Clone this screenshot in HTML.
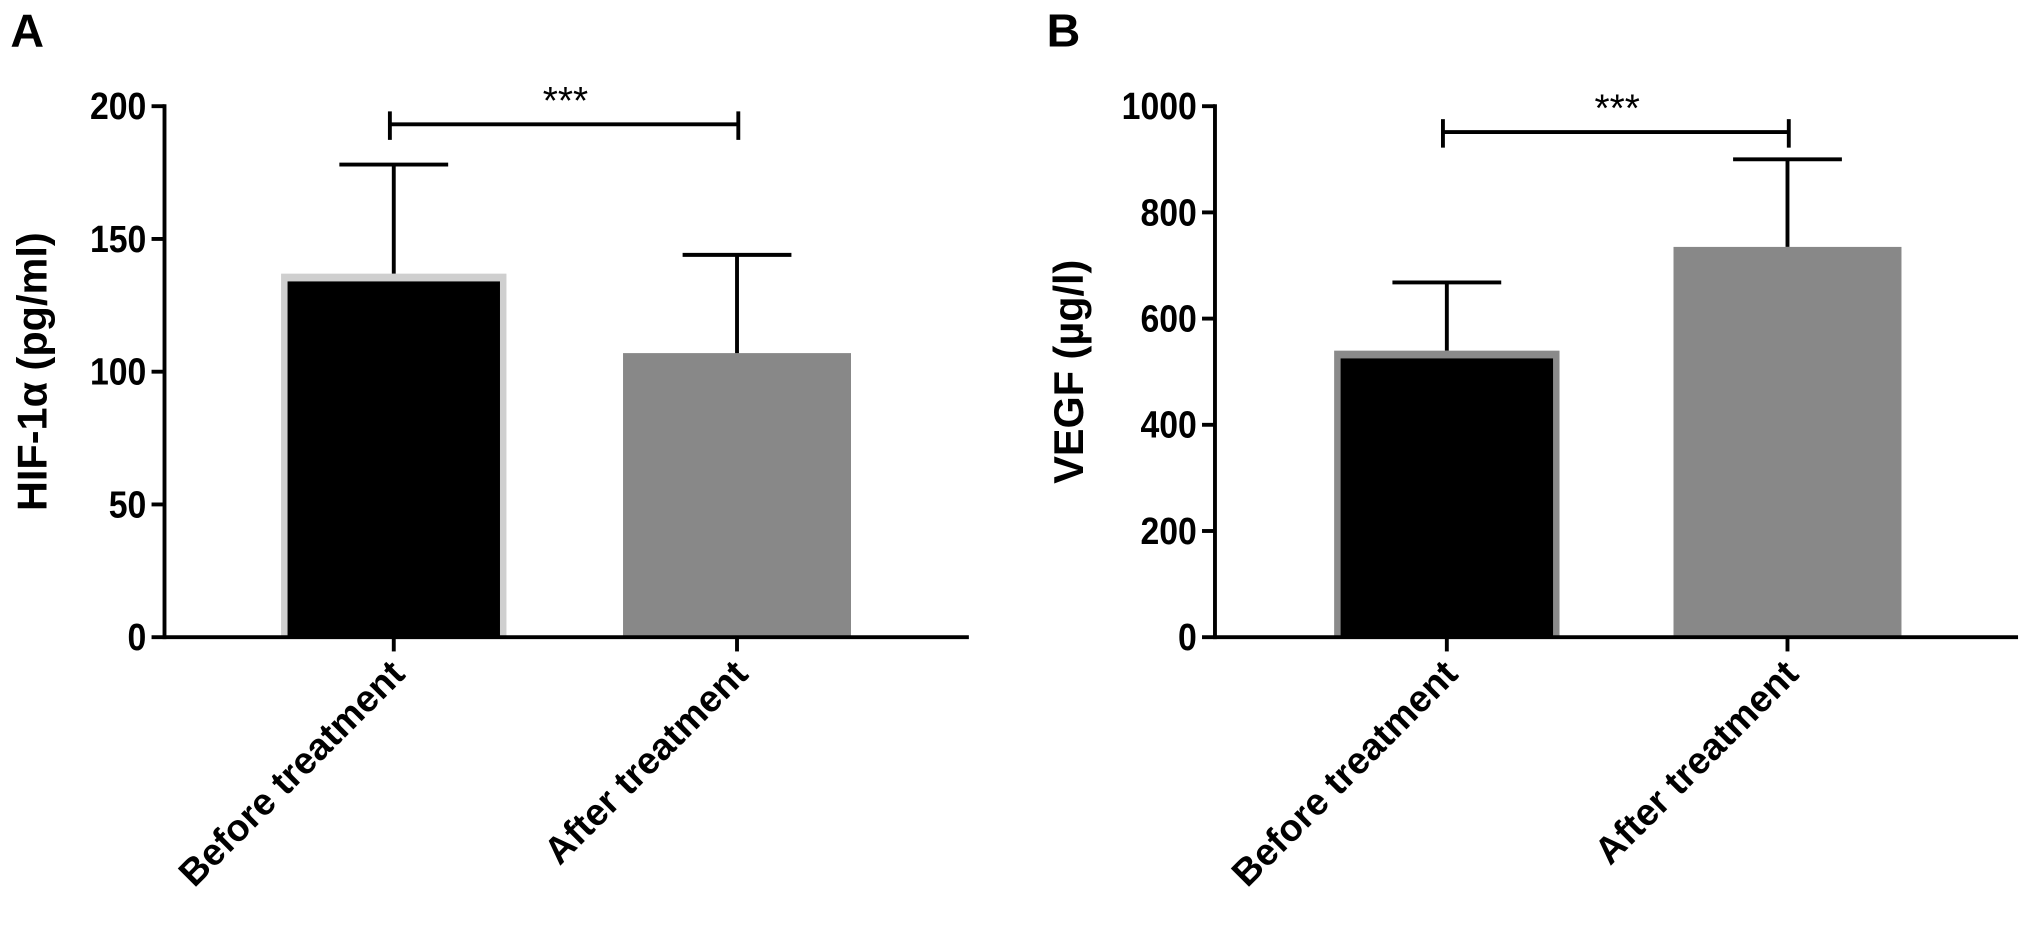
<!DOCTYPE html>
<html><head><meta charset="utf-8"><style>
html,body{margin:0;padding:0;background:#fff;}
svg{display:block;font-family:"Liberation Sans",Arial,sans-serif;}
</style></head><body>
<svg id="chart" width="2031" height="926" viewBox="0 0 1568 715" preserveAspectRatio="none"></svg>
<script>
const categories = ["Before treatment", "After treatment"];
const hifValues = [134, 107];
const hifErrors = [178, 144];
const hifTicks = [0, 50, 100, 150, 200];
const vegfValues = [525, 735];
const vegfErrors = [668, 900];
const vegfTicks = [0, 200, 400, 600, 800, 1000];

const NS = "http://www.w3.org/2000/svg";
const svg = document.getElementById("chart");
function mk(tag, attrs, parent) {
  const e = document.createElementNS(NS, tag);
  for (const k in attrs) e.setAttribute(k, attrs[k]);
  (parent || svg).appendChild(e);
  return e;
}

function panel(cfg) {
  const g = mk("g", {});
  
  
  const y = v => cfg.y0 - (v / cfg.max) * (cfg.y0 - cfg.yTop);
  const xc = i => cfg.centers[i];

  const lab = mk("text", {x: cfg.labelX, y: 36, "font-size": 36, "font-weight": "bold"}, g);
  lab.textContent = cfg.letter;
  
  

  cfg.values.forEach((v, i) => {
    const half = 82;
    if (cfg.borders[i]) {
      const b = mk("rect", {x: xc(i) - half - 5, y: y(v) - 6, width: 2 * half + 10, height: cfg.y0 - y(v) + 6, fill: cfg.borders[i]}, g);
      
      
      const r = mk("rect", {x: xc(i) - half, y: y(v), width: 2 * half, height: cfg.y0 - y(v), fill: cfg.fills[i]}, g);
      
      
    } else {
      const r = mk("rect", {x: xc(i) - 88, y: y(v), width: 176, height: cfg.y0 - y(v), fill: cfg.fills[i]}, g);
      
      
    }
    const eg = mk("g", {stroke: "#000", "stroke-width": 3}, g);
    
    
    const top = cfg.errors[i];
    mk("line", {x1: xc(i), x2: xc(i), y1: y(v) - (cfg.borders[i] ? 6 : 0), y2: y(top)}, eg);
    mk("line", {x1: xc(i) - 42, x2: xc(i) + 42, y1: y(top), y2: y(top)}, eg);
  });

  const ax = mk("g", {stroke: "#000", "stroke-width": 3, fill: "none"}, g);
  
  
  mk("line", {x1: cfg.ax, x2: cfg.ax, y1: cfg.yTop - 1.5, y2: cfg.y0 + 1.5}, ax);
  mk("line", {x1: cfg.ax, x2: cfg.xEnd, y1: cfg.y0, y2: cfg.y0}, ax);
  cfg.ticks.forEach(t => {
    mk("line", {x1: cfg.ax - 10, x2: cfg.ax, y1: y(t), y2: y(t)}, ax);
    const tx = mk("text", {x: cfg.ax - 14, y: y(t) + 10, "font-size": 29, "font-weight": "bold", "text-anchor": "end", fill: "#000", stroke: "none",
      transform: `translate(${cfg.ax - 14} 0) scale(0.9 1) translate(${-(cfg.ax - 14)} 0)`}, g);
    tx.textContent = t;
    
    
  });
  categories.forEach((c, i) => {
    mk("line", {x1: xc(i), x2: xc(i), y1: cfg.y0, y2: cfg.y0 + 11}, ax);
    const tx = mk("text", {x: xc(i) + 10, y: cfg.y0 + 30, "font-size": 29, "font-weight": "bold", "text-anchor": "end",
      transform: `rotate(-45 ${xc(i) + 10} ${cfg.y0 + 30})`}, g);
    tx.textContent = c;
    
    
  });

  const yt = mk("text", {x: cfg.titleX, y: 287, "font-size": 32, "font-weight": "bold", "text-anchor": "middle",
    transform: `rotate(-90 ${cfg.titleX} 287)`}, g);
  yt.textContent = cfg.title;
  
  

  const sg = mk("g", {stroke: "#000", "stroke-width": 3}, g);
  
  
  mk("line", {x1: xc(0) - 3, x2: xc(1) + 1, y1: cfg.sigY, y2: cfg.sigY}, sg);
  mk("line", {x1: xc(0) - 3, x2: xc(0) - 3, y1: cfg.sigY - 10, y2: cfg.sigY + 12}, sg);
  mk("line", {x1: xc(1) + 1, x2: xc(1) + 1, y1: cfg.sigY - 10, y2: cfg.sigY + 12}, sg);
  const st = mk("text", {x: (xc(0) + xc(1)) / 2, y: cfg.sigY - 8, "font-size": 30, "text-anchor": "middle"}, g);
  st.textContent = "***";
  
  
}

panel({name: "panel-a-hif", letter: "A", labelX: 8, ax: 127, xEnd: 748, y0: 492, yTop: 82, max: 200,
  centers: [304, 569], values: hifValues, errors: hifErrors, ticks: hifTicks,
  fills: ["#000", "#888"], borders: ["#cfcfcf", null], title: "HIF-1α (pg/ml)", titleX: 36, sigY: 96});
panel({name: "panel-b-vegf", letter: "B", labelX: 808, ax: 938, xEnd: 1558, y0: 492, yTop: 82, max: 1000,
  centers: [1117, 1380], values: vegfValues, errors: vegfErrors, ticks: vegfTicks,
  fills: ["#000", "#888"], borders: ["#8a8a8a", null], title: "VEGF (µg/l)", titleX: 836, sigY: 102});
</script>
</body></html>
